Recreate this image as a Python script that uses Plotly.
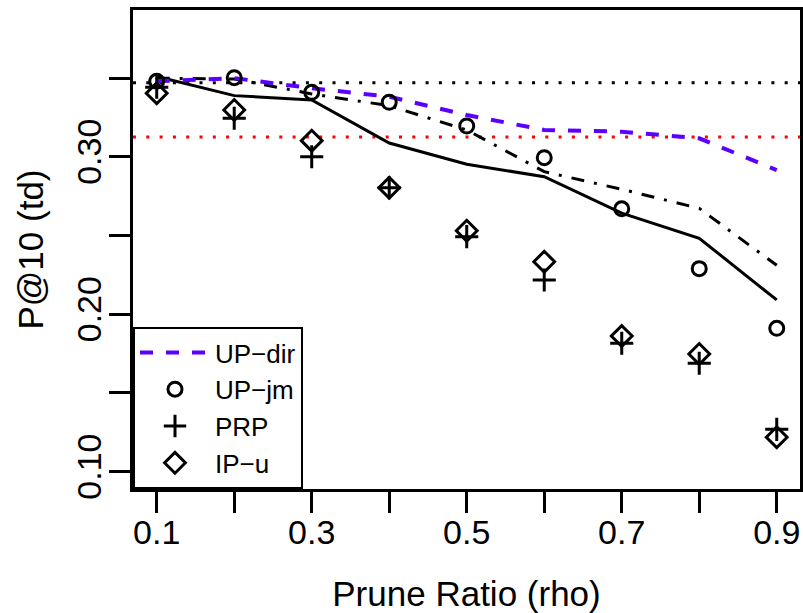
import plotly.graph_objects as go

rho = [0.1, 0.2, 0.3, 0.4, 0.5, 0.6, 0.7, 0.8, 0.9]
up_dir = [0.348, 0.350, 0.3436, 0.3382, 0.3266, 0.3171, 0.316, 0.3118, 0.2916]
up_jm = [0.348, 0.3503, 0.341, 0.3347, 0.3196, 0.2995, 0.2670, 0.2290, 0.1911]
prp = [0.3442, 0.3245, 0.3001, 0.2804, 0.2493, 0.2218, 0.1816, 0.1689, 0.1269]
ip_u = [0.3404, 0.3298, 0.3103, 0.2804, 0.2531, 0.2334, 0.1862, 0.1748, 0.1219]
solid_series = [0.351, 0.3389, 0.3362, 0.3088, 0.2953, 0.2874, 0.2642, 0.2483, 0.2091]
dashdot_series = [0.350, 0.3495, 0.340, 0.3325, 0.3171, 0.2906, 0.2794, 0.2673, 0.2311]
baseline_black = 0.3471
baseline_red = 0.3126

x_tickvals = [0.1, 0.2, 0.3, 0.4, 0.5, 0.6, 0.7, 0.8, 0.9]
x_ticktext = ["0.1", "", "0.3", "", "0.5", "", "0.7", "", "0.9"]
y_tickvals = [0.10, 0.15, 0.20, 0.25, 0.30, 0.35]
y_ticktext = ["0.10", "", "0.20", "", "0.30", ""]

FONT = "Liberation Sans, Arial, Helvetica, sans-serif"
BLUE = "#5B00FF"

fig = go.Figure()

# horizontal reference lines
fig.add_trace(go.Scatter(x=[0.0694, 0.930], y=[baseline_black] * 2, mode="lines",
                         line=dict(color="black", width=3, dash="3px,10.3px"),
                         showlegend=False, hoverinfo="skip"))
fig.add_trace(go.Scatter(x=[0.0694, 0.930], y=[baseline_red] * 2, mode="lines",
                         line=dict(color="red", width=3, dash="3px,10.3px"),
                         showlegend=False, hoverinfo="skip"))

fig.add_trace(go.Scatter(x=rho, y=solid_series, mode="lines",
                         line=dict(color="black", width=3), showlegend=False))
fig.add_trace(go.Scatter(x=rho, y=dashdot_series, mode="lines",
                         line=dict(color="black", width=3, dash="13px,10px,3px,10px"),
                         showlegend=False))
fig.add_trace(go.Scatter(x=rho, y=up_dir, mode="lines", name="UP−dir",
                         line=dict(color=BLUE, width=4, dash="13px,13px")))
fig.add_trace(go.Scatter(x=rho, y=up_jm, mode="markers", name="UP−jm",
                         marker=dict(symbol="circle-open", size=14, color="black",
                                     line=dict(width=3, color="black"))))
fig.add_trace(go.Scatter(x=rho, y=prp, mode="markers", name="PRP",
                         marker=dict(symbol="cross-thin-open", size=16.5, color="black",
                                     line=dict(width=3, color="black"))))
fig.add_trace(go.Scatter(x=rho, y=ip_u, mode="markers", name="IP−u",
                         marker=dict(symbol="diamond-open", size=16, color="black",
                                     line=dict(width=3, color="black"))))

fig.update_layout(
    width=803, height=613,
    margin=dict(l=133, r=3, t=10, b=124, autoexpand=False),
    paper_bgcolor="white", plot_bgcolor="white",
    font=dict(family=FONT, size=34, color="black"),
    legend=dict(x=0, y=0, xanchor="left", yanchor="bottom",
                bordercolor="black", borderwidth=2, bgcolor="white",
                font=dict(size=26), itemwidth=70, tracegroupgap=0,
                entrywidth=96, entrywidthmode="pixels"),
    showlegend=True,
)
fig.update_xaxes(range=[0.0694, 0.930], tickvals=x_tickvals, ticktext=x_ticktext,
                 ticks="outside", ticklen=21, tickwidth=3, tickcolor="black",
                 showline=True, linewidth=3, linecolor="black", mirror=True,
                 showgrid=False, zeroline=False, automargin=False,
                 ticklabelstandoff=-10,
                 title=dict(text="Prune Ratio (rho)", font=dict(size=35), standoff=34))
fig.update_yaxes(range=[0.089, 0.3933], tickvals=y_tickvals, ticktext=y_ticktext,
                 ticks="outside", ticklen=21, tickwidth=3, tickcolor="black",
                 tickangle=-90, ticklabelstandoff=-6,
                 showline=True, linewidth=3, linecolor="black", mirror=True,
                 showgrid=False, zeroline=False, automargin=False,
                 title=dict(text="P@10 (td)", font=dict(size=35), standoff=17))

fig.write_html("out.html", post_script="document.body.style.margin='0';",
               config={"displayModeBar": False})
